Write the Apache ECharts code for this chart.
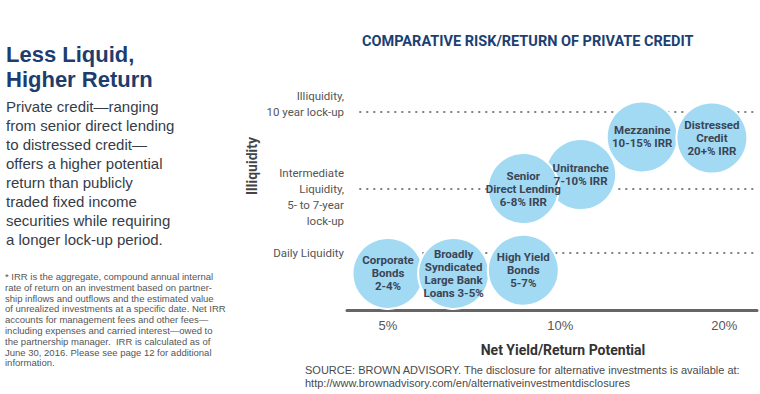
<!DOCTYPE html>
<html>
<head>
<meta charset="utf-8">
<script src="https://cdn.jsdelivr.net/npm/echarts@6/dist/echarts.min.js"></script>
<style>
html,body{margin:0;padding:0;background:#fff;}
#c{width:760px;height:394px;}
</style>
</head>
<body>
<div id="c"></div>
<script>
// ---- data ----
var bubbleNames = ['Corporate Bonds', 'Broadly Syndicated Large Bank Loans', 'High Yield Bonds', 'Unitranche', 'Senior Direct Lending', 'Mezzanine', 'Distressed Credit'];
var bubbleLabels = ['Corporate\nBonds\n2-4%', 'Broadly\nSyndicated\nLarge Bank\nLoans 3-5%', 'High Yield\nBonds\n5-7%', 'Unitranche\n7-10% IRR', 'Senior\nDirect Lending\n6-8% IRR', 'Mezzanine\n10-15% IRR', 'Distressed\nCredit\n20+% IRR'];
var bubbleReturn = [10, 26, 43, 57, 43, 72, 89];      // position on return-potential scale
var bubbleIlliquidity = [17, 17, 18.5, 63, 56.5, 80.5, 80]; // position on illiquidity scale
var xTickPos = [10, 52, 92];
var xTickLabels = ['5%', '10%', '20%'];
var yLevelPos = [26.5, 56.5, 92];
var yLevelLabels = ['Daily Liquidity', '\nIntermediate\nLiquidity,\n5- to 7-year\nlock-up', 'Illiquidity,\n10 year lock-up\n '];

var NARROW = 'Roboto,"Liberation Sans",sans-serif';
var SANS = '"Liberation Sans",Arial,sans-serif';

var chart = echarts.init(document.getElementById('c'), null, {renderer: 'svg'});

var scatterData = bubbleNames.map(function (n, i) {
  return {name: n, value: [bubbleReturn[i], bubbleIlliquidity[i]], label: {formatter: bubbleLabels[i]}};
});

var levelLines = yLevelPos.map(function (y) {
  return [{coord: [3, y]}, {coord: [100, y]}];
});

chart.setOption({
  animation: false,
  backgroundColor: '#fff',
  title: {
    text: 'COMPARATIVE RISK/RETURN OF PRIVATE CREDIT',
    left: 357, top: 29,
    textStyle: {fontFamily: NARROW, fontWeight: 'bold', fontSize: 14.5, color: '#1c3f73'}
  },
  grid: {left: 347, right: 3, top: 95, bottom: 84},
  xAxis: {
    type: 'value', min: 0, max: 100,
    axisLine: {show: true, lineStyle: {color: '#666', width: 3}},
    axisTick: {show: false},
    splitLine: {show: false},
    axisLabel: {
      customValues: xTickPos,
      margin: 9,
      color: '#555', fontFamily: SANS, fontSize: 13,
      formatter: function (v) { var i = xTickPos.indexOf(v); return i >= 0 ? xTickLabels[i] : ''; }
    },
    name: 'Net Yield/Return Potential',
    nameLocation: 'middle', nameGap: 33,
    nameTextStyle: {fontFamily: NARROW, fontWeight: 'bold', fontSize: 14, color: '#333', padding: [0, 0, 0, 22]}
  },
  yAxis: {
    type: 'value', min: 0, max: 100,
    axisLine: {show: false}, axisTick: {show: false}, splitLine: {show: false},
    axisLabel: {
      customValues: yLevelPos,
      margin: 3,
      color: '#555', fontFamily: NARROW, fontSize: 11.5, lineHeight: 16, align: 'right',
      formatter: function (v) { var i = yLevelPos.indexOf(v); return i >= 0 ? yLevelLabels[i] : ''; }
    }
  },
  graphic: [
    {type: 'text', left: 6, top: 42, style: {text: 'Less Liquid,\nHigher Return', font: 'bold 22px ' + SANS, lineHeight: 25, fill: '#1d3d6e'}},
    {type: 'text', left: 6, top: 97, style: {text: 'Private credit\u2014ranging\nfrom senior direct lending\nto distressed credit\u2014\noffers a higher potential\nreturn than publicly\ntraded fixed income\nsecurities while requiring\na longer lock-up period.', font: '15px ' + SANS, lineHeight: 19, fill: '#353c48'}},
    {type: 'text', left: 5, top: 271, style: {text: '* IRR is the aggregate, compound annual internal\nrate of return on an investment based on partner-\nship inflows and outflows and the estimated value\nof unrealized investments at a specific date. Net IRR\naccounts for management fees and other fees\u2014\nincluding expenses and carried interest\u2014owed to\nthe partnership manager.  IRR is calculated as of\nJune 30, 2016. Please see page 12 for additional\ninformation.', font: '9.5px ' + SANS, lineHeight: 10.8, fill: '#555'}},
    {type: 'text', left: 305, top: 364, style: {text: 'SOURCE: BROWN ADVISORY. The disclosure for alternative investments is available at:\nhttp://www.brownadvisory.com/en/alternativeinvestmentdisclosures', font: '11px ' + SANS, lineHeight: 12.6, fill: '#4a4a4a'}},
    {type: 'text', x: 252, y: 166, rotation: Math.PI / 2, style: {text: 'Illiquidity', font: 'bold 14px ' + NARROW, fill: '#444', align: 'center', verticalAlign: 'middle'}}
  ],
  series: [
    {
      type: 'line', data: [], silent: true, z: 1,
      markLine: {
        silent: true, symbol: 'none', z: 1, animation: false,
        label: {show: false},
        lineStyle: {type: [2, 5], color: '#808080', width: 2},
        emphasis: {disabled: true},
        data: levelLines
      }
    },
    {
      type: 'scatter', z: 3, silent: true,
      symbolSize: 71,
      itemStyle: {color: '#a2daf4', borderColor: '#fff', borderWidth: 2, opacity: 1},
      label: {
        show: true, position: 'inside',
        fontFamily: NARROW, fontWeight: 'bold', fontSize: 11.5, lineHeight: 13, color: '#3b4556'
      },
      emphasis: {disabled: true},
      data: scatterData
    }
  ]
});
</script>
</body>
</html>
